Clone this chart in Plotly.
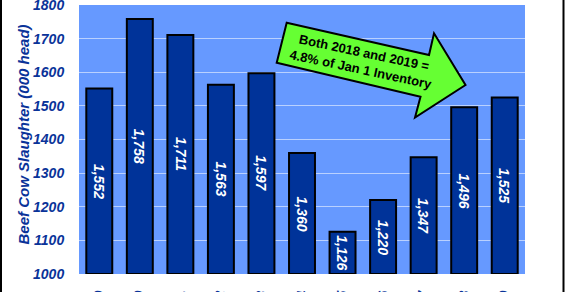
import plotly.graph_objects as go

# ---- data ----
years = ["2009", "2010", "2011", "2012", "2013", "2014", "2015", "2016", "2017", "2018", "2019"]
slaughter = [1552, 1758, 1711, 1563, 1597, 1360, 1126, 1220, 1347, 1496, 1525]
y_title = "Beef Cow Slaughter (000 head)"
y_ticks = [1000, 1100, 1200, 1300, 1400, 1500, 1600, 1700, 1800]
note_text = "Both 2018 and 2019 =<br>4.8% of Jan 1 Inventory"
base_value = 1000

# ---- layout geometry (pixels) ----
W, H = 565, 292
ML, MR, MT, MB = 79, 40, 5, 18
PW, PH = W - ML - MR, H - MT - MB


def px(x, y):
    """pixel -> paper coordinates"""
    return (x - ML) / PW, (H - MB - y) / PH


FONT = "Liberation Sans, Arial, sans-serif"
TICK_COLOR = "#0a3399"

fig = go.Figure()
fig.add_trace(go.Bar(
    x=years,
    y=[v - base_value for v in slaughter],
    base=base_value,
    marker=dict(color="#003399", line=dict(color="#000000", width=2)),
    hoverinfo="skip",
))

# value labels centred inside bars (x given as category index)
for i, v in enumerate(slaughter):
    fig.add_annotation(
        x=i, y=(base_value + v) / 2, xref="x", yref="y",
        text=f"{v:,}", textangle=90, showarrow=False,
        xanchor="center", yanchor="middle",
        font=dict(family=FONT, size=14, color="white", weight="bold", style="italic"),
    )

# green block arrow
pts = [(286.7, 22.7), (429, 55), (434, 33.3), (465.5, 85),
       (415, 117.5), (420.5, 96.7), (276.7, 62.7)]
ppts = [px(x, y) for x, y in pts]
path = "M " + " L ".join(f"{a:.4f},{b:.4f}" for a, b in ppts) + " Z"
fig.add_shape(type="path", path=path, xref="paper", yref="paper",
              fillcolor="#66FF33", line=dict(color="black", width=2), layer="above")

cx, cy = px(362, 61)
fig.add_annotation(
    x=cx, y=cy, xref="paper", yref="paper", text=note_text, showarrow=False,
    xanchor="center", yanchor="middle",
    textangle=12, align="center",
    font=dict(family=FONT, size=13, color="black", weight="bold"),
)

# y-axis title as a rotated annotation
tx, ty = px(23, 134.5)
fig.add_annotation(
    x=tx, y=ty, xref="paper", yref="paper", text=y_title, showarrow=False,
    xanchor="center", yanchor="middle", textangle=-90,
    font=dict(family=FONT, size=15, color=TICK_COLOR, weight="bold", style="italic"),
)

# black edge bars at the image sides
for xl, xr in ((0, 2), (562.5, 564.5)):
    x0, y0 = px(xl, H + 2)
    x1, y1 = px(xr, -2)
    fig.add_shape(type="rect", xref="paper", yref="paper",
                  x0=x0, x1=x1, y0=y0, y1=y1,
                  fillcolor="black", line=dict(width=0), layer="above")

fig.update_layout(
    width=W, height=H,
    margin=dict(l=ML, r=MR, t=MT, b=MB, autoexpand=False),
    paper_bgcolor="white",
    plot_bgcolor="#6699FF",
    bargap=0.36,
    showlegend=False,
    xaxis=dict(
        type="category",
        range=[-0.5, len(years) - 0.5],
        tickangle=-90,
        ticks="outside", ticklen=10, tickcolor="rgba(0,0,0,0)",
        tickfont=dict(family=FONT, size=14, color=TICK_COLOR, weight="bold", style="italic"),
        showgrid=False, showline=False, zeroline=False,
        ticklabeloverflow="allow",
    ),
    yaxis=dict(
        range=[1000, 1800],
        tickvals=y_ticks,
        ticks="outside", ticklen=11, tickcolor="rgba(0,0,0,0)",
        tickfont=dict(family=FONT, size=14, color=TICK_COLOR, weight="bold", style="italic"),
        gridcolor="rgba(255,255,255,0.55)", gridwidth=1,
        showline=False, zeroline=False,
        ticklabeloverflow="allow",
    ),
)

fig.write_html("out.html")
